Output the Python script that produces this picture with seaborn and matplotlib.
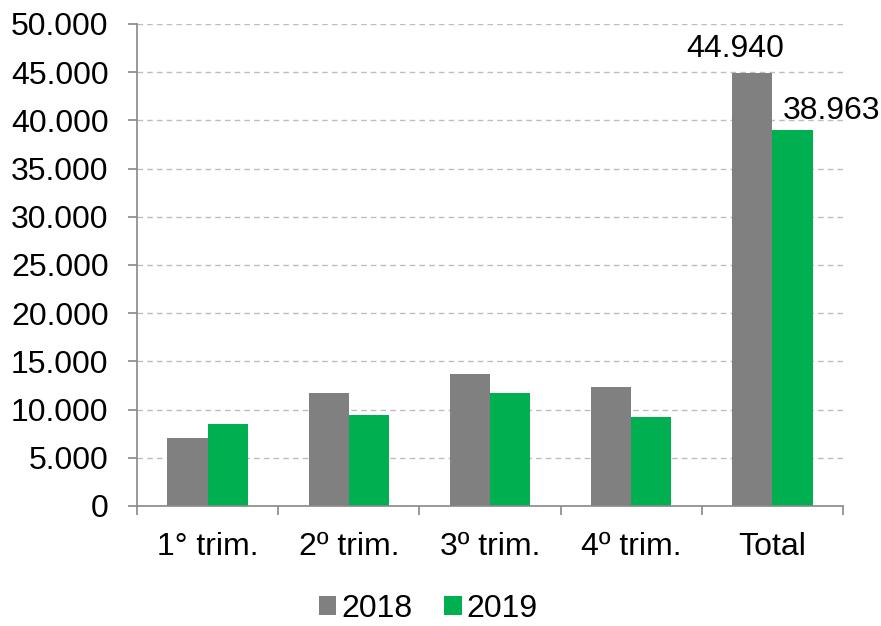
import matplotlib
matplotlib.use("Agg")
import matplotlib.pyplot as plt
from matplotlib.patches import Patch
from matplotlib.ticker import FuncFormatter
import seaborn as sns
import pandas as pd

# datos
categorias = ["1° trim.", "2º trim.", "3º trim.", "4º trim.", "Total"]
anios = ["2018", "2019"]
valores_2018 = [7100, 11750, 13700, 12390, 44940]
valores_2019 = [8550, 9480, 11680, 9253, 38963]
colores = {"2018": "#808080", "2019": "#00B050"}

df = pd.DataFrame({
    "cat": categorias * 2,
    "anio": ["2018"] * len(categorias) + ["2019"] * len(categorias),
    "valor": valores_2018 + valores_2019,
})

sns.set_style("white")
plt.rcParams['font.family'] = ['Liberation Sans', 'DejaVu Sans']
plt.rcParams['text.color'] = 'black'
plt.rcParams['xtick.color'] = 'black'
plt.rcParams['ytick.color'] = 'black'

FS = 23

fig = plt.figure(figsize=(8.81, 6.26), dpi=100)
ax = fig.add_axes([0.1555, 0.1917, 0.8014, 0.77])

sns.barplot(data=df, x="cat", y="valor", hue="anio", palette=colores,
            width=0.57, gap=0, linewidth=0, saturation=1, legend=False, ax=ax)

ax.set_xlim(-0.5, 4.5)
ax.set_ylim(0, 50000)
ax.set_yticks(range(0, 50001, 5000))
ax.yaxis.set_major_formatter(FuncFormatter(lambda v, p: f"{int(v):,}".replace(",", ".")))
ax.grid(axis="y", color="#BDBDBD", linestyle=(0, (4, 3)), linewidth=1.0)
ax.set_axisbelow(True)
ax.set_xlabel("")
ax.set_ylabel("")

for s in ["top", "right"]:
    ax.spines[s].set_visible(False)
for s in ["left", "bottom"]:
    ax.spines[s].set_color("#888888")
    ax.spines[s].set_linewidth(1.2)

ax.tick_params(axis="y", labelsize=FS, length=6.5, width=1.2, color="#888888",
               labelcolor="black", direction="out", left=True, pad=14)
ax.tick_params(axis="x", which="major", labelsize=FS, labelcolor="black", length=0, pad=19)
ax.set_xticks([i - 0.5 for i in range(len(categorias) + 1)], minor=True)
ax.tick_params(axis="x", which="minor", length=6.5, width=1.2, color="#888888",
               direction="out", bottom=True)

# etiquetas del total
ax.annotate(f"{valores_2018[-1]:,}".replace(",", "."), xy=(4 - 0.1425, valores_2018[-1]),
            xytext=(-12, 6), textcoords="offset points", ha="center", va="bottom", fontsize=FS)
ax.annotate(f"{valores_2019[-1]:,}".replace(",", "."), xy=(4 + 0.1425, valores_2019[-1]),
            xytext=(28, 3), textcoords="offset points", ha="center", va="bottom", fontsize=FS)

handles = [Patch(facecolor=colores[a], edgecolor="none", label=a) for a in anios]
fig.legend(handles=handles, loc="center", bbox_to_anchor=(0.486, 0.027), ncol=2,
           frameon=False, fontsize=FS, handlelength=0.55, handleheight=0.55,
           handletextpad=0.15, columnspacing=1.0)

fig.savefig("out.png", dpi=100)
